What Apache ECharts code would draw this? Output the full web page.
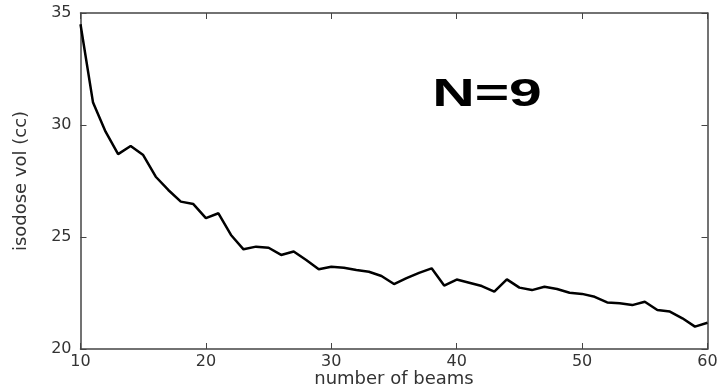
<!DOCTYPE html>
<html>
<head>
<meta charset="utf-8">
<script src="https://cdn.jsdelivr.net/npm/echarts@6/dist/echarts.min.js"></script>
<style>
  html, body { margin: 0; padding: 0; background: #fff; }
  #chart { width: 722px; height: 388px; }
</style>
</head>
<body>
<div id="chart"></div>
<script>
// number of beams (x) and isodose volume in cc (y)
const beams = [
  10, 11, 12, 13, 14, 15, 16, 17, 18, 19,
  20, 21, 22, 23, 24, 25, 26, 27, 28, 29,
  30, 31, 32, 33, 34, 35, 36, 37, 38, 39,
  40, 41, 42, 43, 44, 45, 46, 47, 48, 49,
  50, 51, 52, 53, 54, 55, 56, 57, 58, 59, 60
];
const isodoseVol = [
  34.5, 31.0, 29.7, 28.7, 29.06, 28.66, 27.69, 27.1, 26.58, 26.47,
  25.84, 26.06, 25.09, 24.45, 24.57, 24.52, 24.2, 24.35, 23.97, 23.56,
  23.67, 23.63, 23.53, 23.45, 23.26, 22.9, 23.16, 23.4, 23.6, 22.83,
  23.1, 22.96, 22.81, 22.56, 23.11, 22.74, 22.63, 22.78, 22.68, 22.51,
  22.46, 22.33, 22.08, 22.04, 21.96, 22.11, 21.74, 21.67, 21.37, 21.0, 21.17
];
const xTicks = [10, 20, 30, 40, 50, 60];
const yTicks = [20, 25, 30, 35];
const annotation = "N=9";

const chart = echarts.init(document.getElementById("chart"), null, { renderer: "canvas" });

const axisColor = "#444";
const labelFont = { color: "#333", fontFamily: "DejaVu Sans", fontSize: 16 };

const option = {
  backgroundColor: "#fff",
  animation: false,
  grid: { left: 80.5, right: 14.5, top: 13, bottom: 39, containLabel: false, outerBoundsMode: "none" },
  xAxis: [
    {
      type: "value",
      min: xTicks[0],
      max: xTicks[xTicks.length - 1],
      interval: 10,
      name: "number of beams",
      nameLocation: "middle",
      nameGap: 21,
      nameMoveOverlap: false,
      nameTextStyle: { ...labelFont, fontSize: 18 },
      axisLine: { lineStyle: { color: axisColor, width: 1.5 } },
      axisTick: { inside: true, length: 6, lineStyle: { color: axisColor } },
      axisLabel: { ...labelFont, margin: 5 },
      splitLine: { show: false },
    },
    {
      type: "value",
      position: "top",
      min: xTicks[0],
      max: xTicks[xTicks.length - 1],
      interval: 10,
      axisLine: { show: true, lineStyle: { color: axisColor, width: 1.5 } },
      axisTick: { show: true, inside: true, length: 6, lineStyle: { color: axisColor } },
      axisLabel: { show: false },
      splitLine: { show: false },
    },
  ],
  yAxis: [
    {
      type: "value",
      min: yTicks[0],
      max: yTicks[yTicks.length - 1],
      interval: 5,
      name: "isodose vol (cc)",
      nameLocation: "middle",
      nameGap: 50,
      nameMoveOverlap: false,
      nameTextStyle: { ...labelFont, fontSize: 18 },
      axisLine: { show: true, lineStyle: { color: axisColor, width: 1.5 } },
      axisTick: { show: true, inside: true, length: 6, lineStyle: { color: axisColor } },
      axisLabel: { ...labelFont, margin: 9 },
      splitLine: { show: false },
    },
    {
      type: "value",
      position: "right",
      min: yTicks[0],
      max: yTicks[yTicks.length - 1],
      interval: 5,
      axisLine: { show: true, lineStyle: { color: axisColor, width: 1.5 } },
      axisTick: { show: true, inside: true, length: 6, lineStyle: { color: axisColor } },
      axisLabel: { show: false },
      splitLine: { show: false },
    },
  ],
  graphic: [
    {
      type: "text",
      x: 487,
      y: 96,
      scaleX: 1.55,
      originX: 0,
      style: {
        text: annotation,
        x: 0,
        y: 0,
        align: "center",
        verticalAlign: "middle",
        fill: "#000",
        font: "bold 38px 'Liberation Sans'",
      },
    },
  ],
  series: [
    {
      type: "line",
      xAxisIndex: 0,
      yAxisIndex: 0,
      data: beams.map((b, i) => [b, isodoseVol[i]]),
      showSymbol: false,
      lineStyle: { color: "#000", width: 2.5 },
    },
  ],
};

chart.setOption(option);
</script>
</body>
</html>
